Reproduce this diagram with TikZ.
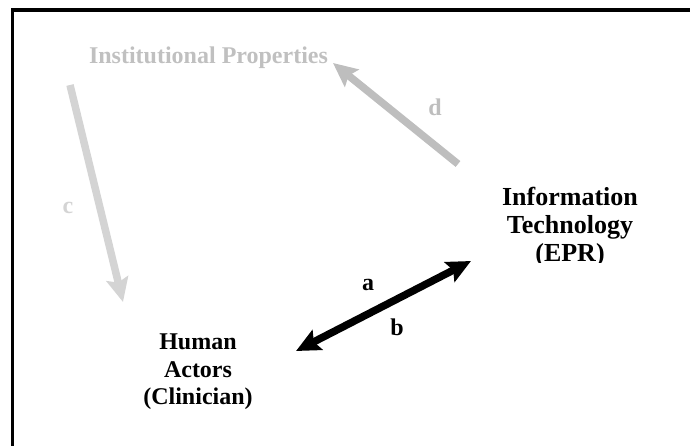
\documentclass[tikz,border=0pt]{standalone}
\usepackage{fontspec}
\setmainfont{Liberation Serif}
\usetikzlibrary{arrows.meta}
\definecolor{ipgray}{HTML}{C0C0C0}
\definecolor{cgray}{HTML}{D4D4D4}
\definecolor{dgray}{HTML}{BEBEBE}
\begin{document}
\begin{tikzpicture}[x=1pt,y=-1pt,
  txt/.style={font=\bfseries\fontsize{24}{27.5}\selectfont, inner sep=0pt, align=center},
  bigtxt/.style={font=\bfseries\fontsize{26}{28}\selectfont, inner sep=0pt, align=center},
  >={Stealth[length=24pt,width=22pt,inset=4pt]},
  fat/.style={line width=7.5pt},
  ]
\useasboundingbox (0,0) rectangle (690,445);
\clip (0,0) rectangle (690,445);
% outer frame, only its top and left sides fall on the page
\draw[line width=3.5pt] (12.5,9.8) rectangle (720,480);

% concepts
\node[txt, text=ipgray, anchor=base] (inst) at (208.5,63) {Institutional Properties};
\node[txt, anchor=north] (human) at (198,334) {Human\\Actors\\(Clinician)};
\begin{scope}
  \clip (460,150) rectangle (680,262);
  \node[bigtxt, anchor=north] (it) at (570,187) {Information\\Technology\\(EPR)};
\end{scope}

% arrow end points
\coordinate (cS) at (70,85);
\coordinate (cE) at (123,302);
\coordinate (dS) at (458,164);
\coordinate (dE) at (333,63);
\coordinate (abS) at (296,351);
\coordinate (abE) at (471,261);

% relations
\draw[fat, cgray, ->] (cS) -- (cE);
\draw[fat, dgray, ->] (dS) -- (dE);
\draw[fat, black, <->] (abS) -- (abE);

% relation labels
\node[txt, text=cgray, anchor=base] (lc) at (68,213) {c};
\node[txt, text=dgray, anchor=base] (ld) at (435,115) {d};
\node[txt, anchor=base] (la) at (368,290) {a};
\node[txt, anchor=base] (lb) at (397,335) {b};
\end{tikzpicture}
\end{document}
